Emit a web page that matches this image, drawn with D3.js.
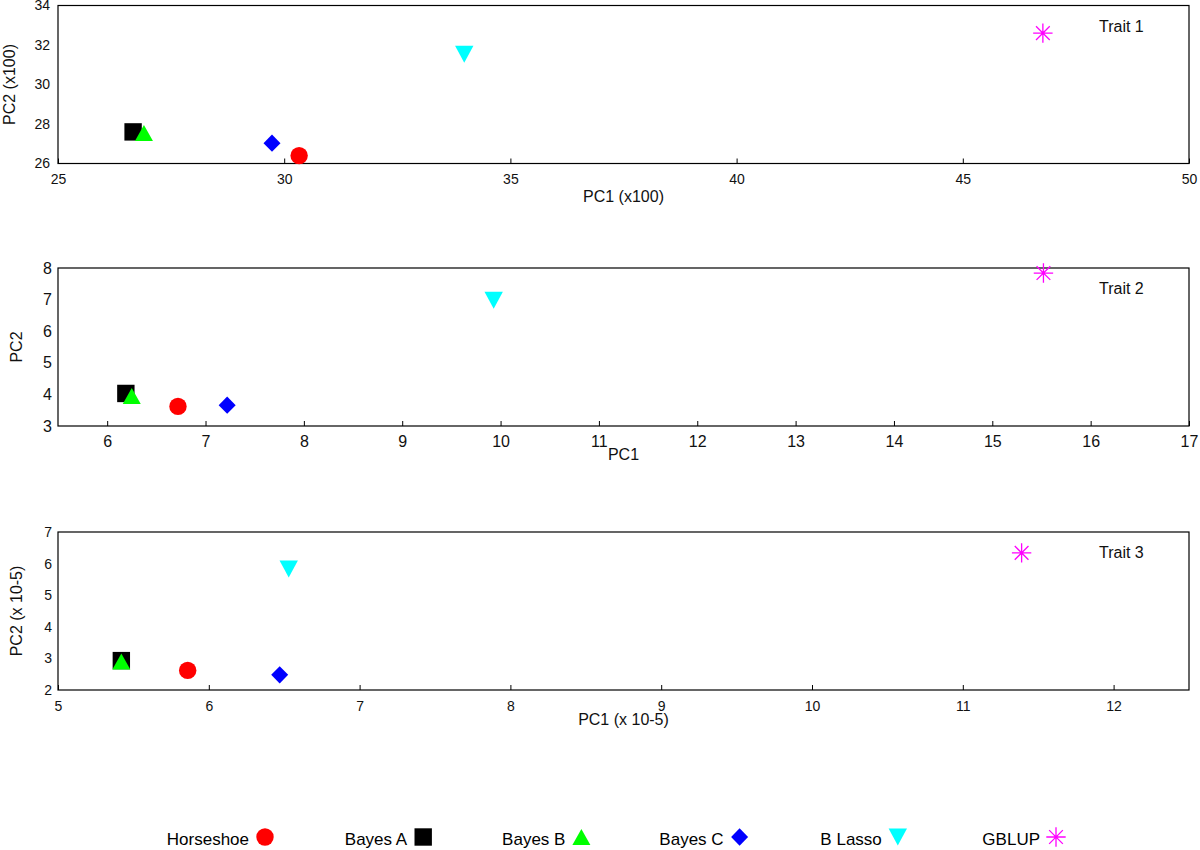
<!DOCTYPE html>
<html>
<head>
<meta charset="utf-8">
<style>
  body { margin: 0; background: #fff; }
  svg { display: block; font-family: "Liberation Sans", Arial, sans-serif; }
</style>
</head>
<body>
<svg width="1200" height="850"></svg>
<script src="https://d3js.org/d3.v7.min.js"></script>
<script>
// ---- data ----
const methods = ["Horseshoe", "Bayes A", "Bayes B", "Bayes C", "B Lasso", "GBLUP"];
const colors  = ["#ff0000", "#000000", "#00ff00", "#0000ff", "#00ffff", "#ff00ff"];
const shapes  = ["circle", "square", "triangleUp", "diamond", "triangleDown", "asterisk"];

const trait1PC1 = [30.33, 26.66, 26.90, 29.73, 33.98, 46.77];
const trait1PC2 = [26.40, 27.60, 27.55, 27.03, 31.53, 32.60];
const trait2PC1 = [6.72, 6.19, 6.25, 7.22, 9.93, 15.52];
const trait2PC2 = [3.62, 4.03, 3.95, 3.66, 6.98, 7.84];
const trait3PC1 = [5.86, 5.42, 5.42, 6.47, 6.53, 11.39];
const trait3PC2 = [2.62, 2.93, 2.90, 2.48, 5.83, 6.34];

const trait1XTicks = [25, 30, 35, 40, 45, 50];
const trait1YTicks = [26, 28, 30, 32, 34];
const trait2XTicks = [6, 7, 8, 9, 10, 11, 12, 13, 14, 15, 16, 17];
const trait2YTicks = [3, 4, 5, 6, 7, 8];
const trait3XTicks = [5, 6, 7, 8, 9, 10, 11, 12];
const trait3YTicks = [2, 3, 4, 5, 6, 7];

const panels = [
  {title: "Trait 1", xs: trait1PC1, ys: trait1PC2, xDomain: [25, 50], yDomain: [26, 34],
   xTicks: trait1XTicks, yTicks: trait1YTicks, xLabel: "PC1 (x100)", yLabel: "PC2 (x100)"},
  {title: "Trait 2", xs: trait2PC1, ys: trait2PC2, xDomain: [5.5, 17], yDomain: [3, 8],
   xTicks: trait2XTicks, yTicks: trait2YTicks, xLabel: "PC1", yLabel: "PC2"},
  {title: "Trait 3", xs: trait3PC1, ys: trait3PC2, xDomain: [5, 12.5], yDomain: [2, 7],
   xTicks: trait3XTicks, yTicks: trait3YTicks, xLabel: "PC1 (x 10-5)", yLabel: "PC2 (x 10-5)"}
];

// ---- layout ----
const left = 58, right = 1189, plotH = 158;
const tops = [5.5, 268, 532];
const xLabelGap = [38, 34, 35];
const yLabelX = [15, 22, 22];
const yTickPad = [8, 6, 6];
const tickFont = [14, 16, 14];

const svg = d3.select("svg");

// custom marker shapes (drawn around 0,0)
const symbolTypes = {
  circle: {draw(ctx) { ctx.moveTo(8.7, 0); ctx.arc(0, 0, 8.7, 0, 2 * Math.PI); }},
  square: {draw(ctx) { ctx.rect(-8.7, -8.7, 17.4, 17.4); }},
  triangleUp: {draw(ctx) { ctx.moveTo(0, -8); ctx.lineTo(9, 8); ctx.lineTo(-9, 8); ctx.closePath(); }},
  triangleDown: {draw(ctx) { ctx.moveTo(0, 8.5); ctx.lineTo(9.2, -8.5); ctx.lineTo(-9.2, -8.5); ctx.closePath(); }},
  diamond: {draw(ctx) { ctx.moveTo(0, -8.7); ctx.lineTo(8.5, 0); ctx.lineTo(0, 8.7); ctx.lineTo(-8.5, 0); ctx.closePath(); }},
  asterisk: {draw(ctx) {
    const r = 9.7, d = r * Math.SQRT1_2;
    ctx.moveTo(-r, 0); ctx.lineTo(r, 0);
    ctx.moveTo(0, -r); ctx.lineTo(0, r);
    ctx.moveTo(-d, -d); ctx.lineTo(d, d);
    ctx.moveTo(-d, d); ctx.lineTo(d, -d);
  }}
};
const sym = d3.symbol();

function drawMarker(sel, i) {
  const s = shapes[i];
  sel.append("path")
    .attr("d", sym.type(symbolTypes[s])())
    .attr("fill", s === "asterisk" ? "none" : colors[i])
    .attr("stroke", s === "asterisk" ? colors[i] : "none")
    .attr("stroke-width", 1.3);
}

panels.forEach((p, k) => {
  const top = tops[k], bottom = top + plotH;
  const x = d3.scaleLinear().domain(p.xDomain).range([left, right]);
  const y = d3.scaleLinear().domain(p.yDomain).range([bottom, top]);

  const g = svg.append("g");

  g.append("rect")
    .attr("x", left).attr("y", top)
    .attr("width", right - left).attr("height", plotH)
    .attr("fill", "none").attr("stroke", "#000").attr("stroke-width", 1.2);

  g.append("g")
    .attr("transform", `translate(0,${bottom})`)
    .call(d3.axisBottom(x).tickValues(p.xTicks).tickSize(-5).tickPadding(tickFont[k] === 16 ? 10 : 11).tickFormat(d3.format("d")))
    .call(a => a.select(".domain").remove())
    .call(a => a.selectAll("text").attr("font-size", tickFont[k]).attr("fill", "#111"))
    .attr("font-family", null);

  g.append("g")
    .attr("transform", `translate(${left},0)`)
    .call(d3.axisLeft(y).tickValues(p.yTicks).tickSize(0).tickPadding(yTickPad[k]).tickFormat(d3.format("d")))
    .call(a => a.select(".domain").remove())
    .call(a => a.selectAll("text").attr("font-size", tickFont[k]).attr("fill", "#111"))
    .attr("font-family", null);

  g.append("text")
    .attr("x", (left + right) / 2).attr("y", bottom + xLabelGap[k])
    .attr("text-anchor", "middle").attr("font-size", 16).attr("fill", "#111")
    .text(p.xLabel);

  g.append("text")
    .attr("transform", `translate(${yLabelX[k]},${(top + bottom) / 2}) rotate(-90)`)
    .attr("text-anchor", "middle").attr("font-size", 16).attr("fill", "#111")
    .text(p.yLabel);

  g.append("text")
    .attr("x", 1099).attr("y", top + 26)
    .attr("font-size", 16).attr("fill", "#111")
    .text(p.title);

  methods.forEach((m, i) => {
    g.append("g")
      .attr("transform", `translate(${x(p.xs[i])},${y(p.ys[i])})`)
      .call(sel => drawMarker(sel, i));
  });
});

// ---- legend ----
const lx = d3.scalePoint().domain(methods).range([265, 1056]);
const legend = svg.append("g");
methods.forEach((m, i) => {
  const item = legend.append("g").attr("transform", `translate(${lx(m)},837)`);
  item.append("text")
    .attr("x", -16).attr("y", 7.5)
    .attr("text-anchor", "end").attr("font-size", 17)
    .attr("fill", "#000")
    .text(m);
  drawMarker(item, i);
});
</script>
</body>
</html>
